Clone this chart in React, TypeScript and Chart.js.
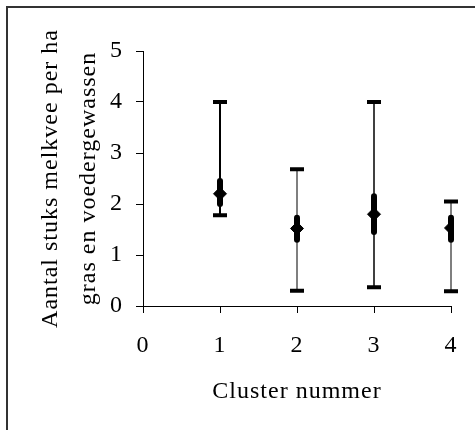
import React, { useEffect, useRef } from "react";
import { Chart, registerables } from "chart.js";

Chart.register(...registerables);

const clusters = [1, 2, 3, 4];
const means = [2.2, 1.52, 1.8, 1.53];
const mins = [1.78, 0.3, 0.37, 0.29];
const maxs = [4.0, 2.68, 4.0, 2.05];
const seLow = [2.0, 1.3, 1.45, 1.3];
const seHigh = [2.45, 1.73, 2.15, 1.73];
const xTicks = [0, 1, 2, 3, 4];
const yTicks = [0, 1, 2, 3, 4, 5];
const yTitle = ["Aantal stuks melkvee per ha", "gras en voedergewassen"];
const xTitle = "Cluster nummer";

const whiskerColors = ["#000000", "#7f7f7f", "#000000", "#7f7f7f"];
const whiskerWidths = [2, 2, 1.5, 2];
const FONT = "'Times New Roman', 'Liberation Serif', serif";

const errorBarPlugin = {
  id: "errorBars",
  beforeDraw(chart: any) {
    (chart.ctx as any).letterSpacing = "1px";
  },
  beforeDatasetsDraw(chart: any) {
    const { ctx, scales } = chart;
    const xs = scales.x;
    const ys = scales.y;
    ctx.save();
    clusters.forEach((c, i) => {
      const x = xs.getPixelForValue(c);
      const yMin = ys.getPixelForValue(mins[i]);
      const yMax = ys.getPixelForValue(maxs[i]);
      ctx.beginPath();
      ctx.strokeStyle = whiskerColors[i];
      ctx.lineWidth = whiskerWidths[i];
      ctx.lineCap = "butt";
      ctx.moveTo(x, yMin);
      ctx.lineTo(x, yMax);
      ctx.stroke();
      ctx.beginPath();
      ctx.strokeStyle = "#000";
      ctx.lineWidth = 4;
      ctx.moveTo(x - 7, yMin);
      ctx.lineTo(x + 7, yMin);
      ctx.moveTo(x - 7, yMax);
      ctx.lineTo(x + 7, yMax);
      ctx.stroke();
      ctx.beginPath();
      ctx.lineWidth = 6;
      ctx.lineCap = "round";
      ctx.moveTo(x, ys.getPixelForValue(seLow[i]));
      ctx.lineTo(x, ys.getPixelForValue(seHigh[i]));
      ctx.stroke();
    });
    ctx.restore();
  },
};

export default function App() {
  const ref = useRef<HTMLCanvasElement | null>(null);

  useEffect(() => {
    if (!ref.current) return;
    const chart = new Chart(ref.current, {
      type: "scatter",
      data: {
        datasets: [
          {
            data: clusters.map((c, i) => ({ x: c, y: means[i] })),
            pointStyle: "rectRot",
            pointRadius: 6.5,
            pointBackgroundColor: "#000",
            pointBorderColor: "#000",
            pointBorderWidth: 1,
            showLine: false,
          },
        ],
      },
      options: {
        responsive: false,
        animation: false,
        layout: { padding: { left: 0, right: 22, top: 51, bottom: 0 } },
        plugins: {
          legend: { display: false },
          tooltip: { enabled: false },
        },
        scales: {
          x: {
            type: "linear",
            min: 0,
            max: 4,
            afterBuildTicks: (s: any) => {
              s.ticks = xTicks.map((v) => ({ value: v }));
            },
            afterFit: (s: any) => {
              s.height = 124;
            },
            ticks: {
              color: "#000",
              font: { family: FONT, size: 24 },
              padding: 18,
              maxRotation: 0,
            },
            grid: {
              drawOnChartArea: false,
              drawTicks: true,
              tickLength: 7,
              color: "#000",
              tickWidth: 1,
            },
            border: { color: "#000", width: 1 },
            title: {
              display: true,
              text: xTitle,
              color: "#000",
              font: { family: FONT, size: 24 },
              padding: { top: 0, bottom: 24 },
            },
          },
          y: {
            type: "linear",
            min: 0,
            max: 5,
            afterBuildTicks: (s: any) => {
              s.ticks = yTicks.map((v) => ({ value: v }));
            },
            afterFit: (s: any) => {
              s.width = 143;
            },
            ticks: {
              color: "#000",
              font: { family: FONT, size: 24 },
              padding: 13,
            },
            grid: {
              drawOnChartArea: false,
              drawTicks: true,
              tickLength: 7,
              color: "#000",
              tickWidth: 1,
            },
            border: { color: "#000", width: 1 },
            title: {
              display: true,
              text: yTitle,
              color: "#000",
              font: { family: FONT, size: 24, lineHeight: 1.58 },
              padding: { top: 32, bottom: 0 },
            },
          },
        },
      },
      plugins: [errorBarPlugin],
    });
    return () => chart.destroy();
  }, []);

  return (
    <div style={{ position: "absolute", left: 0, top: 0, width: 475, height: 430, background: "#fff" }}>
      <canvas ref={ref} width={475} height={430} style={{ display: "block" }} />
      <div
        style={{
          position: "absolute",
          left: 6,
          top: 6,
          right: 0,
          bottom: 0,
          borderLeft: "2px solid #333",
          borderTop: "2px solid #333",
          pointerEvents: "none",
        }}
      />
    </div>
  );
}
